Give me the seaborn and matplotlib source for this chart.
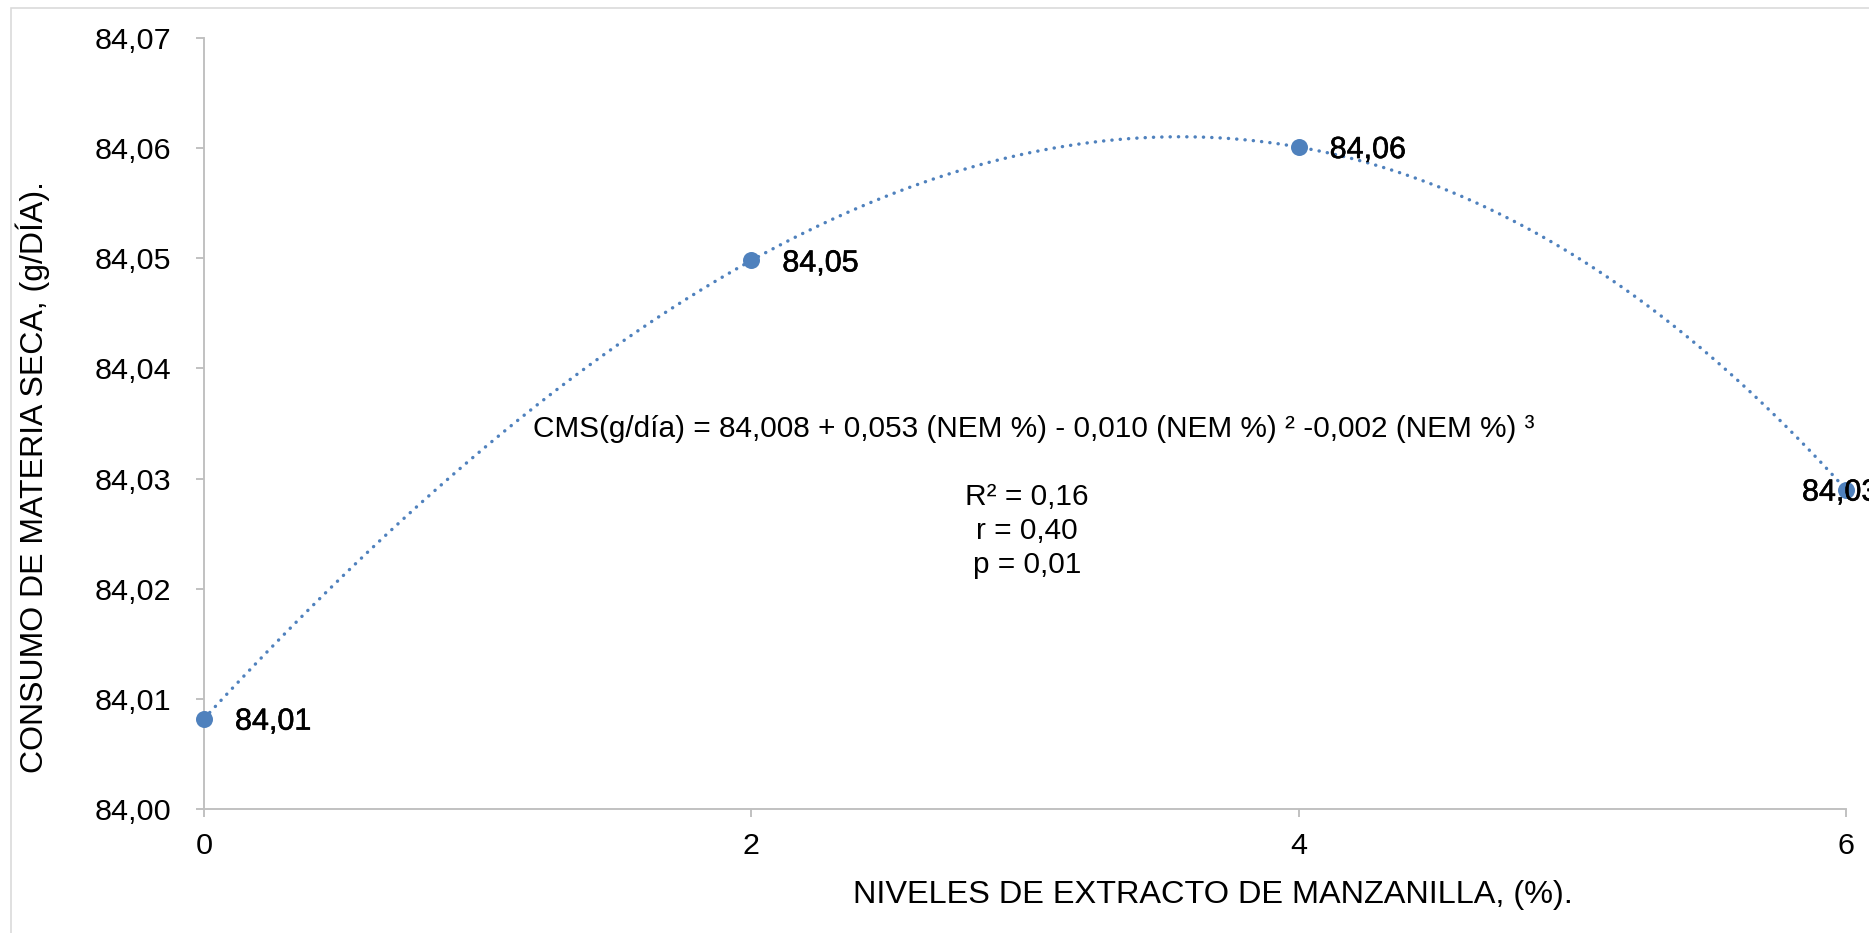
import numpy as np
import matplotlib
matplotlib.use("Agg")
import matplotlib.pyplot as plt
import matplotlib.patheffects as pe
import seaborn as sns
from matplotlib.patches import Rectangle
from matplotlib.ticker import FuncFormatter

# ---- data -------------------------------------------------------------
niveles = [0, 2, 4, 6]                              # % extracto de manzanilla
consumo = [84.0082, 84.0498, 84.0601, 84.0290]      # g/día
x_ticks = [0, 2, 4, 6]
y_ticks = [84.00, 84.01, 84.02, 84.03, 84.04, 84.05, 84.06, 84.07]
x_title = "NIVELES DE EXTRACTO DE MANZANILLA, (%)."
y_title = "CONSUMO DE MATERIA SECA, (g/DÍA)."
ecuacion = "CMS(g/día) = 84,008 + 0,053 (NEM %) - 0,010 (NEM %) ² -0,002 (NEM %) ³"
estadisticos = ["R² = 0,16", "r = 0,40", "p = 0,01"]

# ---- canvas -----------------------------------------------------------
W, H, DPI = 1869, 933, 100
PT = 72 / DPI                      # points per pixel
AZUL = "#4F81BD"
GRIS_EJE = "#BFBFBF"

sns.set_theme(style="white")
plt.rcParams["font.family"] = ["Liberation Sans", "DejaVu Sans"]

fig = plt.figure(figsize=(W / DPI, H / DPI), dpi=DPI)
fig.patch.set_facecolor("white")

# chart-area border (only top and left edges fall inside the image)
fig.add_artist(Rectangle((11 / W, -0.2), 1.5, 1.2 - 8 / H,
                         transform=fig.transFigure, fill=False,
                         edgecolor="#D9D9D9", linewidth=1.6 * PT))

def fy(py):
    return 1 - py / H

ax = fig.add_axes([204 / W, fy(809), (1846 - 204) / W, (809 - 38) / H])
ax.set_facecolor("none")

# polynomial trend line fitted to the four means
coef = np.polyfit(niveles, consumo, 3)
xs = np.linspace(min(niveles), max(niveles), 400)
ys = np.polyval(coef, xs)
sns.lineplot(x=xs, y=ys, ax=ax, color=AZUL, linewidth=3.4 * PT, sort=True,
             estimator=None)
trend = ax.lines[-1]
trend.set_linestyle((0, (0.05, 2.4)))
trend.set_dash_capstyle("round")
trend.set_clip_on(False)

sns.scatterplot(x=niveles, y=consumo, ax=ax, s=(17 * PT) ** 2, color=AZUL,
                edgecolor=AZUL, linewidth=0, zorder=4, clip_on=False)

# value labels next to each point
offsets_px = [(31, -11), (31, -11), (31, -11), (-44, -11)]
for x, v, (dx, dy) in zip(niveles, consumo, offsets_px):
    ax.annotate(f"{v:.2f}".replace(".", ","), xy=(x, v),
                xytext=(dx * PT, dy * PT), textcoords="offset points",
                ha="left", va="baseline", fontsize=30.5 * PT, color="black",
                annotation_clip=False, zorder=5,
                path_effects=[pe.withStroke(linewidth=0.55 * PT, foreground="black")])

# axes
ax.set_xlim(0, 6)
ax.set_ylim(84.0, 84.07)
ax.set_xticks(x_ticks)
ax.set_yticks(y_ticks)
ax.xaxis.set_major_formatter(FuncFormatter(lambda v, p: f"{v:.0f}"))
ax.yaxis.set_major_formatter(FuncFormatter(lambda v, p: f"{v:.2f}".replace(".", ",")))
for side in ("top", "right"):
    ax.spines[side].set_visible(False)
for side in ("left", "bottom"):
    ax.spines[side].set_color(GRIS_EJE)
    ax.spines[side].set_linewidth(1.9 * PT)
ax.tick_params(axis="both", which="major", direction="out", length=8 * PT,
               width=1.9 * PT, color=GRIS_EJE, labelsize=30.5 * PT,
               labelcolor="black", bottom=True, left=True)
ax.tick_params(axis="y", pad=25 * PT)
ax.tick_params(axis="x", pad=15 * PT)
ax.grid(False)

# axis titles
fig.text(33 / W, fy(477), y_title, rotation=90, ha="center", va="center",
         fontsize=32 * PT, color="black")
fig.text(1213 / W, fy(903), x_title, ha="center", va="baseline",
         fontsize=32.5 * PT, color="black")

# regression equation and statistics
fig.text(1034 / W, fy(437), ecuacion, ha="center", va="baseline",
         fontsize=29.8 * PT, color="black")
for i, linea in enumerate(estadisticos):
    fig.text(1027 / W, fy(505 + 34 * i), linea, ha="center", va="baseline",
             fontsize=29.8 * PT, color="black")

fig.savefig("out.png", dpi=DPI, facecolor="white")
